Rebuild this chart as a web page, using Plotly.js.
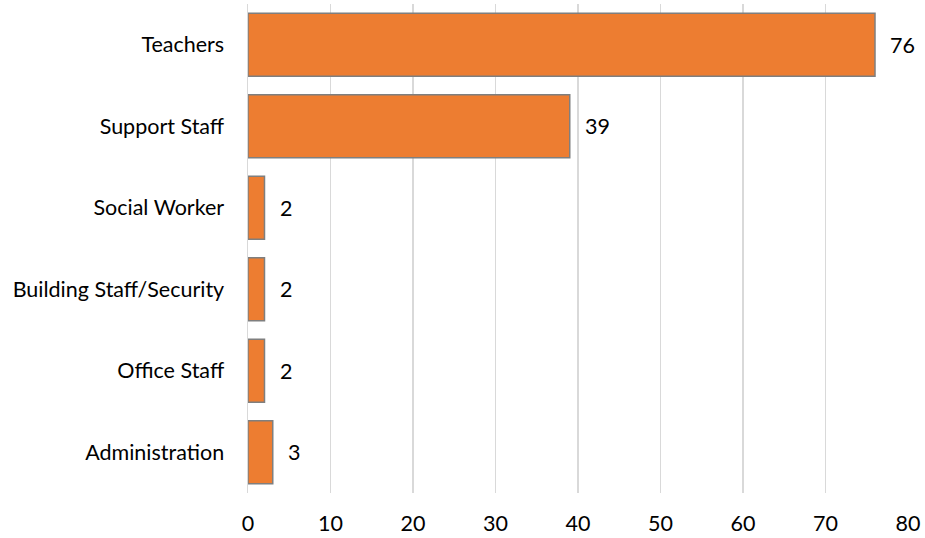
<!DOCTYPE html>
<html><head><meta charset="utf-8">
<script src="https://cdn.plot.ly/plotly-3.0.1.min.js"></script>
<style>html,body{margin:0;padding:0;background:#fff}#c{width:925px;height:538px}</style>
</head><body><div id="c"></div>
<script>
var categories = ["Teachers","Support Staff","Social Worker","Building Staff/Security","Office Staff","Administration"];
var values = [76, 39, 2, 2, 2, 3];
var xTicks = [0,10,20,30,40,50,60,70,80];

var font = {family: "Lato, 'Open Sans', sans-serif", size: 21.5, color: "#000"};
var trace = {
  type: "bar", orientation: "h",
  y: categories, x: values,
  marker: {color: "#ED7D31", line: {color: "#7F7F7F", width: 1.5}},
  hoverinfo: "none"
};
var annotations = values.map(function(v,i){
  return {x: v, y: categories[i], xref: "x", yref: "y", text: String(v),
    showarrow: false, xanchor: "left", xshift: 13, font: font};
});
var layout = {
  width: 925, height: 538,
  margin: {l: 248, r: 17, t: 4, b: 45},
  paper_bgcolor: "#fff", plot_bgcolor: "#fff",
  bargap: 0.23,
  showlegend: false,
  font: font,
  xaxis: {range: [0, 80], tickvals: xTicks, showgrid: true, gridcolor: "#D9D9D9", gridwidth: 1.3,
    zeroline: false, showline: false, ticks: "outside", ticklen: 11, tickcolor: "rgba(0,0,0,0)",
    tickfont: font, fixedrange: true},
  yaxis: {autorange: "reversed", showgrid: false, zeroline: false, showline: true, linecolor: "#D9D9D9", linewidth: 1.5,
    ticks: "outside", ticklen: 18, tickcolor: "rgba(0,0,0,0)", tickfont: font, fixedrange: true},
  annotations: annotations
};
Plotly.newPlot("c", [trace], layout, {displayModeBar: false, staticPlot: true});
</script></body></html>
